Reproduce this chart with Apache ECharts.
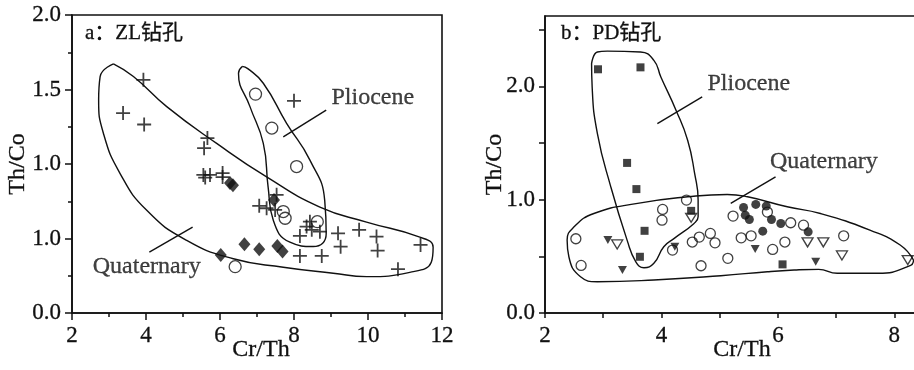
<!DOCTYPE html>
<html>
<head>
<meta charset="utf-8">
<script src="https://cdn.jsdelivr.net/npm/echarts@6/dist/echarts.min.js"></script>
<style>
  html, body { margin: 0; padding: 0; background: #fff; }
  #chart { width: 914px; height: 370px; }
</style>
</head>
<body>
<div id="chart"></div>
<script>
// panel a: ZL borehole  [Cr/Th, Th/Co]
const zlCross = [
  [3.93, 1.565], [3.38, 1.342], [3.95, 1.265], [5.66, 1.174], [5.57, 1.106],
  [5.55, 0.927], [5.6, 0.909], [5.73, 0.927], [6.07, 0.939], [6.07, 0.912],
  [8.0, 1.424], [7.53, 0.793], [7.06, 0.719], [7.26, 0.703], [7.49, 0.692],
  [8.43, 0.613], [8.34, 0.58], [8.16, 0.517], [8.48, 0.558], [8.7, 0.546],
  [9.19, 0.535], [9.26, 0.445], [9.76, 0.558], [10.23, 0.513], [10.26, 0.419],
  [11.42, 0.457], [10.81, 0.294], [8.16, 0.383], [8.75, 0.383]
]
const zlCircle = [
  [6.96, 1.469], [7.4, 1.241], [8.07, 0.983], [7.71, 0.681], [7.76, 0.636],
  [8.63, 0.613], [6.41, 0.311]
]
const zlDiamond = [
  [6.27, 0.873], [6.35, 0.857], [7.46, 0.759], [6.66, 0.462], [7.06, 0.428],
  [7.55, 0.45], [7.69, 0.412], [6.02, 0.39]
]
const zlQuaternary = [
  [3.12, 1.672], [3.66, 1.587], [4.56, 1.385], [5.91, 1.138], [7.26, 0.913],
  [8.7, 0.711], [9.96, 0.61], [11.4, 0.509], [11.76, 0.442], [11.71, 0.341],
  [11.13, 0.273], [9.96, 0.244], [9.06, 0.267], [7.71, 0.307], [6.36, 0.364],
  [5.1, 0.487], [4.02, 0.689], [3.3, 0.936], [2.85, 1.205], [2.72, 1.43],
  [2.76, 1.587], [3.12, 1.672]
]
const zlPliocene = [
  [6.6, 1.655], [6.75, 1.64], [7.17, 1.542], [7.8, 1.273], [8.43, 1.026],
  [8.83, 0.756], [8.87, 0.532], [8.52, 0.446], [7.89, 0.475], [7.44, 0.622],
  [7.3, 0.846], [7.17, 1.138], [6.81, 1.385], [6.5, 1.609], [6.6, 1.655]
]
const zlLeaders = [
  [[7.71, 1.182], [8.87, 1.362]],
  [[4.09, 0.408], [5.26, 0.576]]
]
const zlNotes = [
  { name: 'Pliocene', value: [10.13, 1.444] },
  { name: 'Quaternary', value: [4.02, 0.311] }
]

// panel b: PD borehole
const pdSquare = [
  [2.91, 2.15], [3.64, 2.167], [3.41, 1.324], [3.57, 1.093], [4.51, 0.901],
  [3.71, 0.725], [3.63, 0.496], [6.08, 0.429]
]
const pdCircle = [
  [2.53, 0.655], [2.62, 0.42], [4.02, 0.914], [4.01, 0.819], [4.43, 0.996],
  [4.19, 0.555], [4.53, 0.626], [4.65, 0.67], [4.84, 0.702], [4.92, 0.619],
  [4.68, 0.417], [5.14, 0.482], [5.23, 0.855], [5.37, 0.663], [5.54, 0.681],
  [5.82, 0.89], [5.91, 0.561], [6.12, 0.626], [6.22, 0.796], [6.44, 0.775],
  [7.13, 0.681]
]
const pdDot = [
  [5.41, 0.931], [5.62, 0.958], [5.8, 0.943], [5.44, 0.863], [5.51, 0.825],
  [5.89, 0.825], [6.05, 0.79], [5.74, 0.722], [6.52, 0.716]
]
const pdTriDown = [
  [3.08, 0.643], [3.33, 0.379], [4.23, 0.584], [5.61, 0.564], [6.65, 0.452]
]
const pdTriOpen = [
  [3.24, 0.605], [4.51, 0.84], [6.51, 0.623], [6.78, 0.623], [7.1, 0.508],
  [8.23, 0.467]
]
const pdPliocene = [
  [2.8, 2.2], [2.9, 2.302], [3.07, 2.31], [3.64, 2.302], [3.87, 2.229],
  [3.99, 2.082], [4.25, 1.789], [4.45, 1.524], [4.57, 1.231], [4.63, 0.996],
  [4.63, 0.848], [4.56, 0.79], [4.22, 0.658], [4.04, 0.584], [3.87, 0.438],
  [3.7, 0.399], [3.56, 0.452], [3.41, 0.643], [3.13, 1.113], [2.9, 1.583],
  [2.81, 1.994], [2.8, 2.2]
]
const pdQuaternary = [
  [8.33, 0.467], [8.1, 0.6], [7.58, 0.731], [6.73, 0.878], [6.16, 0.937],
  [5.48, 1.025], [5.13, 1.046], [4.45, 1.025], [3.59, 0.967], [2.84, 0.878],
  [2.5, 0.76], [2.38, 0.643], [2.41, 0.496], [2.61, 0.32], [2.9, 0.276],
  [3.87, 0.291], [5.02, 0.329], [5.82, 0.364], [6.28, 0.379], [6.7, 0.385],
  [7.02, 0.35], [7.73, 0.35], [8.28, 0.42], [8.33, 0.467]
]
const pdLeaders = [
  [[3.93, 1.671], [4.7, 1.906]],
  [[5.19, 0.967], [5.96, 1.2]]
]
const pdNotes = [
  { name: 'Pliocene', value: [5.5, 2.02] },
  { name: 'Quaternary', value: [6.79, 1.333] }
]

// tick labels (panel a repeats "1.0" as printed)
const aXTicks = ['2', '4', '6', '8', '10', '12']
const aYTicks = ['0.0', '1.0', '1.0', '1.5', '2.0']
const bXTickValues = [2, 3, 4, 5, 6, 7, 8]
const bXLabelValues = [2, 4, 6, 8]
const bYTickValues = [0, 0.5, 1, 1.5, 2, 2.5]
const bYLabelValues = [0, 1, 2]

const serif = "'Liberation Serif', 'Noto Sans CJK SC', serif"
const ink = '#111'

const chart = echarts.init(document.getElementById('chart'))

// slight stroke to thicken the thin serif glyphs
const heavy = { textBorderColor: ink, textBorderWidth: 0.3 }
const axisLine = { lineStyle: { color: ink, width: 1.6 } }
const nameStyle = Object.assign({ fontFamily: serif, fontSize: 24, color: ink }, heavy)
const labelStyle = Object.assign({ fontFamily: serif, fontSize: 23, color: ink }, heavy)
const xLabelStyle = Object.assign({ lineHeight: 16 }, labelStyle)

function outline(data, idx) {
  return {
    type: 'line', xAxisIndex: idx, yAxisIndex: idx, data,
    smooth: 0.5, showSymbol: false, symbol: 'none', silent: true,
    lineStyle: { color: ink, width: 1.4 }, z: 1
  }
}

function leader(data, idx) {
  return {
    type: 'line', xAxisIndex: idx, yAxisIndex: idx, data,
    showSymbol: false, symbol: 'none', silent: true,
    lineStyle: { color: ink, width: 1.4 }, z: 1
  }
}

function notes(data, idx) {
  return {
    type: 'scatter', xAxisIndex: idx, yAxisIndex: idx, data,
    symbolSize: 1, itemStyle: { color: 'transparent' }, silent: true,
    label: Object.assign({ show: true, position: 'inside', formatter: '{b}', fontFamily: serif, fontSize: 24, color: ink }, heavy)
  }
}

function marks(data, idx, symbol, size, filled, extra) {
  return Object.assign({
    type: 'scatter', xAxisIndex: idx, yAxisIndex: idx, data,
    symbol, symbolSize: size, silent: true, z: 3,
    itemStyle: filled
      ? { color: ink }
      : { color: 'transparent', borderColor: ink, borderWidth: 1.3 }
  }, extra || {})
}

// x-axis names drawn as plain text so they do not hide the tick labels above them
function xName(x) {
  return {
    type: 'text', x, y: 350, silent: true,
    style: {
      text: 'Cr/Th', align: 'center', verticalAlign: 'middle',
      fontFamily: serif, fontSize: 24, fill: ink, stroke: ink, lineWidth: 0.3
    }
  }
}

const plusPath = 'path://M5,0L5,10M0,5L10,5'

chart.setOption({
  animation: false,
  title: [
    { text: 'a：ZL钻孔', left: 80, top: 18, textStyle: Object.assign({ fontFamily: serif, fontSize: 21, fontWeight: 'normal', color: ink }, heavy) },
    { text: 'b：PD钻孔', left: 556, top: 18, textStyle: Object.assign({ fontFamily: serif, fontSize: 21, fontWeight: 'normal', color: ink }, heavy) }
  ],
  graphic: [xName(261), xName(742)],
  grid: [
    { left: 72, top: 15, right: 472, bottom: 57, outerBoundsMode: 'none', show: true, borderColor: ink, borderWidth: 1.6 },
    { left: 545, top: 16, right: -24, bottom: 57, outerBoundsMode: 'none', show: true, borderColor: ink, borderWidth: 1.6 }
  ],
  xAxis: [
    {
      gridIndex: 0, type: 'value', min: 2, max: 12, interval: 2,
      axisLine, axisTick: { length: 7, lineStyle: { color: ink, width: 1.5 } },
      minorTick: { show: true, splitNumber: 2, length: 4, lineStyle: { color: ink, width: 1.5 } },
      axisLabel: Object.assign({ margin: 15, formatter: v => aXTicks[Math.round((v - 2) / 2)] || '' }, xLabelStyle),
      splitLine: { show: false }
    },
    {
      gridIndex: 1, type: 'value', min: 2, max: 8.75,
      axisLine,
      axisTick: { length: 5, customValues: bXTickValues, lineStyle: { color: ink, width: 1.5 } },
      axisLabel: Object.assign({ margin: 15, customValues: bXLabelValues, formatter: v => String(v) }, xLabelStyle),
      splitLine: { show: false }
    }
  ],
  yAxis: [
    {
      gridIndex: 0, type: 'value', min: 0, max: 2, interval: 0.5,
      name: 'Th/Co', nameLocation: 'middle', nameGap: 42, nameMoveOverlap: false, nameTextStyle: nameStyle,
      axisLine, axisTick: { length: 7, lineStyle: { color: ink, width: 1.5 } },
      minorTick: { show: true, splitNumber: 2, length: 4, lineStyle: { color: ink, width: 1.5 } },
      axisLabel: Object.assign({ margin: 11, formatter: v => aYTicks[Math.round(v / 0.5)] || '' }, labelStyle),
      splitLine: { show: false }
    },
    {
      gridIndex: 1, type: 'value', min: 0, max: 2.62,
      name: 'Th/Co', nameLocation: 'middle', nameGap: 38, nameMoveOverlap: false, nameTextStyle: nameStyle,
      axisLine,
      axisTick: { length: 6, customValues: bYTickValues, lineStyle: { color: ink, width: 1.5 } },
      axisLabel: Object.assign({ margin: 10, customValues: bYLabelValues, formatter: v => v.toFixed(1) }, labelStyle),
      splitLine: { show: false }
    }
  ],
  series: [
    outline(zlQuaternary, 0),
    outline(zlPliocene, 0),
    leader(zlLeaders[0], 0),
    leader(zlLeaders[1], 0),
    notes(zlNotes, 0),
    marks(zlCross, 0, plusPath, 14, false, { itemStyle: { color: 'transparent', borderColor: ink, borderWidth: 1.8 } }),
    marks(zlCircle, 0, 'circle', 12, false),
    marks(zlDiamond, 0, 'diamond', [12, 14], true),

    outline(pdPliocene, 1),
    outline(pdQuaternary, 1),
    leader(pdLeaders[0], 1),
    leader(pdLeaders[1], 1),
    notes(pdNotes, 1),
    marks(pdSquare, 1, 'rect', 8, true),
    marks(pdCircle, 1, 'circle', 10, false),
    marks(pdDot, 1, 'circle', 9, true),
    marks(pdTriDown, 1, 'triangle', [9, 8], true, { symbolRotate: 180 }),
    marks(pdTriOpen, 1, 'triangle', [11, 9], false, { symbolRotate: 180 })
  ]
})
</script>
</body>
</html>
